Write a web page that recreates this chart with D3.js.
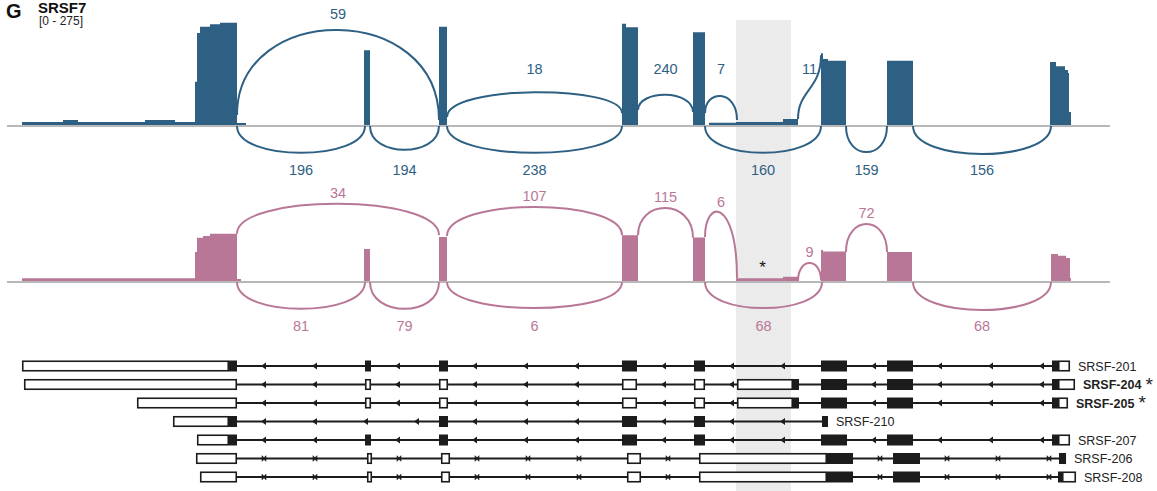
<!DOCTYPE html>
<html>
<head>
<meta charset="utf-8">
<script src="https://cdn.jsdelivr.net/npm/d3@7"></script>
<style>
  body { margin: 0; background: #fff; }
  text { font-family: "Liberation Sans", Arial, sans-serif; }
</style>
</head>
<body>
<div id="chart"></div>
<script>
// Coverage blocks: [start, end, reads]  (positions along the gene, plot units)
const blueCoverage = [
    [22, 63, 8], [63, 78, 13], [78, 145, 8], [145, 175, 13], [175, 195, 8],
    [195, 197, 113], [197, 200, 241], [200, 210, 257], [210, 220, 264], [220, 237, 268], [237, 246, 5],
    [364, 370, 196],
    [439, 447, 257],
    [622, 626, 265], [626, 638, 256],
    [693, 705, 243],
    [709, 736, 6], [736, 783, 8], [783, 798, 16],
    [821, 823, 188], [823, 828, 173], [828, 846, 168],
    [887, 913, 168],
    [1050, 1056, 165], [1056, 1065, 154], [1065, 1068, 144], [1068, 1069, 136], [1069, 1071, 34]
];

const pinkCoverage = [
    [22, 195, 7],
    [195, 197, 76], [197, 203, 113], [203, 210, 118], [210, 237, 124], [237, 241, 5],
    [364, 370, 84],
    [439, 447, 115],
    [622, 638, 120],
    [693, 705, 114],
    [736, 783, 7], [783, 798, 11],
    [821, 823, 81], [823, 846, 77],
    [887, 912, 76],
    [1051, 1058, 71], [1058, 1066, 66], [1066, 1070, 60], [1070, 1071, 8]
];

// Junctions: h0/h1 = read level at the arc ends, peak = arc height (reads)
const blueJunctions = [
    { from: 237, to: 439, count: 59, side: "up", h0: 26, h1: 13, peak: 249 },
    { from: 447, to: 622, count: 18, side: "up", h0: 21, h1: 31, peak: 86 },
    { from: 638, to: 693, count: 240, side: "up", h0: 39, h1: 34, peak: 79 },
    { from: 705, to: 737, count: 7, side: "up", h0: 31, h1: 13, peak: 76 },
    { from: 798, to: 821, count: 11, side: "up", h0: 16, h1: 183, peak: 94 },
    { from: 237, to: 365, count: 196, side: "down", peak: 73 },
    { from: 370, to: 439, count: 194, side: "down", peak: 65 },
    { from: 447, to: 622, count: 238, side: "down", peak: 73 },
    { from: 705, to: 821, count: 160, side: "down", peak: 73 },
    { from: 846, to: 887, count: 159, side: "down", peak: 71 },
    { from: 913, to: 1051, count: 156, side: "down", peak: 76 }
];

const pinkJunctions = [
    { from: 237, to: 439, count: 34, side: "up", h0: 124, h1: 120, peak: 202 },
    { from: 447, to: 622, count: 107, side: "up", h0: 118, h1: 120, peak: 194 },
    { from: 638, to: 693, count: 115, side: "up", h0: 120, h1: 113, peak: 191 },
    { from: 705, to: 737, count: 6, side: "up", h0: 115, h1: 8, peak: 178 },
    { from: 798, to: 821, count: 9, side: "up", h0: 0, h1: 2, peak: 47 },
    { from: 846, to: 887, count: 72, side: "up", h0: 76, h1: 76, peak: 149 },
    { from: 237, to: 365, count: 81, side: "down", peak: 73 },
    { from: 370, to: 439, count: 79, side: "down", peak: 73 },
    { from: 447, to: 622, count: 6, side: "down", peak: 71 },
    { from: 705, to: 822, count: 68, side: "down", peak: 71 },
    { from: 913, to: 1051, count: 68, side: "down", peak: 76 }
];

const highlight = [736, 791];

// Transcript models: [start, end, kind]  utr = open box, cds = filled box
const transcripts = [
    { name: "SRSF-201", bold: false, star: false, marker: "arrow",
      blocks: [[22, 229, "utr"], [229, 237, "cds"], [365, 371, "cds"], [439, 448, "cds"], [622, 637, "cds"], [694, 705, "cds"], [821, 847, "cds"], [887, 913, "cds"], [1052, 1058, "cds"], [1058, 1070, "utr"]] },
    { name: "SRSF-204", bold: true, star: true, marker: "arrow",
      blocks: [[24, 237, "utr"], [365, 371, "utr"], [439, 448, "utr"], [622, 637, "utr"], [694, 705, "utr"], [737, 793, "utr"], [793, 799, "cds"], [821, 847, "cds"], [887, 913, "cds"], [1052, 1058, "cds"], [1058, 1075, "utr"]] },
    { name: "SRSF-205", bold: true, star: true, marker: "arrow",
      blocks: [[137, 237, "utr"], [365, 371, "utr"], [439, 448, "utr"], [622, 637, "utr"], [694, 705, "utr"], [737, 793, "utr"], [793, 799, "cds"], [821, 847, "cds"], [887, 913, "cds"], [1052, 1058, "cds"], [1058, 1068, "utr"]] },
    { name: "SRSF-210", bold: false, star: false, marker: "arrow",
      blocks: [[173, 229, "utr"], [229, 237, "cds"], [439, 448, "cds"], [622, 637, "cds"], [694, 705, "cds"], [822, 828, "cds"]] },
    { name: "SRSF-207", bold: false, star: false, marker: "arrow",
      blocks: [[197, 229, "utr"], [229, 237, "cds"], [365, 371, "cds"], [439, 448, "cds"], [622, 637, "cds"], [694, 705, "cds"], [821, 847, "cds"], [887, 913, "cds"], [1052, 1058, "cds"], [1058, 1070, "utr"]] },
    { name: "SRSF-206", bold: false, star: false, marker: "tick",
      blocks: [[196, 237, "utr"], [367, 372, "utr"], [441, 450, "utr"], [627, 641, "utr"], [699, 827, "utr"], [827, 853, "cds"], [893, 920, "cds"], [1059, 1063, "cds"], [1063, 1066, "utr"]] },
    { name: "SRSF-208", bold: false, star: false, marker: "tick",
      blocks: [[200, 237, "utr"], [367, 372, "utr"], [441, 450, "utr"], [627, 641, "utr"], [699, 827, "utr"], [827, 853, "cds"], [893, 920, "cds"], [1058, 1062, "cds"], [1062, 1076, "utr"]] }
];

const width = 1157, height = 491;
const svg = d3.select("#chart").append("svg")
    .attr("width", width)
    .attr("height", height);

const x = d3.scaleLinear().domain([0, width]).range([0, width]);
const yCov = d3.scaleLinear().domain([0, 275]).range([0, 105]);

// highlighted region
svg.append("rect")
    .attr("x", x(highlight[0]))
    .attr("width", x(highlight[1]) - x(highlight[0]))
    .attr("y", 20)
    .attr("height", height - 20)
    .attr("fill", "#ebebeb");

// title
svg.append("text").attr("x", 6).attr("y", 18)
    .style("font-size", "20px").style("font-weight", "bold").attr("fill", "#111").text("G");
svg.append("text").attr("x", 38).attr("y", 13)
    .style("font-size", "15px").style("font-weight", "bold").attr("fill", "#111").text("SRSF7");
svg.append("text").attr("x", 39).attr("y", 25)
    .style("font-size", "12px").attr("fill", "#222").text("[0 - 275]");

const tracks = [
    { coverage: blueCoverage, junctions: blueJunctions, color: "#2e6084", base: 125, labelCap: 69, labelGap: 16 },
    { coverage: pinkCoverage, junctions: pinkJunctions, color: "#b97797", base: 281, labelCap: null, labelGap: 11 }
];

function stepPoints(segs) {
    const pts = [];
    segs.forEach((s, i) => {
        pts.push([s[0], s[2]]);
        const next = segs[i + 1];
        if (!next || next[0] !== s[1]) pts.push([s[1], 0]);
    });
    return pts;
}

tracks.forEach(t => {
    const g = svg.append("g");

    // baseline
    g.append("line")
        .attr("x1", x(7)).attr("x2", x(1110))
        .attr("y1", t.base + 1).attr("y2", t.base + 1)
        .attr("stroke", "#b8b8b8").attr("stroke-width", 2);

    const area = d3.area()
        .x(d => x(d[0]))
        .y0(t.base)
        .y1(d => t.base - yCov(d[1]))
        .curve(d3.curveStepAfter);

    g.append("path")
        .datum(stepPoints(t.coverage))
        .attr("d", area)
        .attr("fill", t.color);

    // junction arcs
    t.junctions.forEach(j => {
        const x0 = x(j.from), x1 = x(j.to);
        let y0, y1, apex;
        if (j.side === "up") {
            y0 = t.base - yCov(j.h0);
            y1 = t.base - yCov(j.h1);
            apex = t.base - yCov(j.peak);
        } else {
            y0 = t.base + 1;
            y1 = t.base + 1;
            apex = t.base + yCov(j.peak);
        }
        const c = (apex - (y0 + y1) / 8) / 0.75;
        g.append("path")
            .attr("d", `M${x0},${y0} C${x0},${c} ${x1},${c} ${x1},${y1}`)
            .attr("fill", "none")
            .attr("stroke", t.color)
            .attr("stroke-width", 2);

        let ly;
        if (j.side === "up") {
            ly = apex - t.labelGap;
            if (t.labelCap !== null && ly > t.labelCap && ly - t.labelCap < 25) ly = t.labelCap;
        } else {
            ly = t.base + 45;
        }
        g.append("text")
            .attr("x", (x0 + x1) / 2)
            .attr("y", ly)
            .attr("dy", "0.36em")
            .attr("text-anchor", "middle")
            .style("font-size", "14.5px")
            .attr("fill", t.color)
            .text(j.count);
    });
});

// asterisk in the highlighted region of the second track
svg.append("text")
    .attr("x", x((highlight[0] + highlight[1]) / 2) - 1)
    .attr("y", tracks[1].base - 8)
    .attr("text-anchor", "middle")
    .style("font-size", "17px")
    .attr("fill", "#111")
    .text("*");

// transcript models
const row = d3.scalePoint()
    .domain(transcripts.map(d => d.name))
    .range([366, 477]);

const ink = "#1c1c1c";
const boxH = 11;

transcripts.forEach(tr => {
    const y = row(tr.name);
    const g = svg.append("g");
    const blocks = tr.blocks;
    const first = blocks[0][0], last = blocks[blocks.length - 1][1];

    g.append("line")
        .attr("x1", x(first)).attr("x2", x(last))
        .attr("y1", y).attr("y2", y)
        .attr("stroke", ink).attr("stroke-width", 2);

    // strand markers inside introns
    for (let i = 1; i < blocks.length; i++) {
        const s = blocks[i - 1][1], e = blocks[i][0];
        if (e <= s) continue;
        for (let p = s + 27; p < e - 3; p += 51) {
            const px = x(p);
            if (tr.marker === "arrow") {
                g.append("path")
                    .attr("d", `M${px - 3},${y} L${px + 2},${y - 3.5} L${px + 2},${y + 3.5} Z`)
                    .attr("fill", ink);
            } else {
                g.append("path")
                    .attr("d", `M${px - 2},${y - 2.8} L${px},${y - 0.8} L${px + 2},${y - 2.8} L${px + 2},${y + 2.8} L${px},${y + 0.8} L${px - 2},${y + 2.8} Z`)
                    .attr("fill", ink).attr("stroke", ink).attr("stroke-width", 0.6);
            }
        }
    }

    blocks.forEach(b => {
        const bx = x(b[0]), bw = x(b[1]) - x(b[0]);
        if (b[2] === "cds") {
            g.append("rect")
                .attr("x", bx).attr("y", y - boxH / 2)
                .attr("width", bw).attr("height", boxH)
                .attr("fill", ink);
        } else {
            g.append("rect")
                .attr("x", bx + 0.75).attr("y", y - boxH / 2 + 0.75)
                .attr("width", Math.max(bw - 1.5, 0.5)).attr("height", boxH - 1.5)
                .attr("fill", "#fff")
                .attr("stroke", ink).attr("stroke-width", 1.6);
        }
    });

    const label = g.append("text")
        .attr("x", x(last) + 8)
        .attr("y", y)
        .attr("dy", "0.36em")
        .style("font-size", "12.5px")
        .style("font-weight", tr.bold ? "bold" : "normal")
        .attr("fill", "#222")
        .text(tr.name);

    if (tr.star) {
        const bb = label.node().getBBox();
        g.append("text")
            .attr("x", bb.x + bb.width + 4)
            .attr("y", y + 6)
            .style("font-size", "19px")
            .attr("fill", "#222")
            .text("*");
    }
});
</script>
</body>
</html>
